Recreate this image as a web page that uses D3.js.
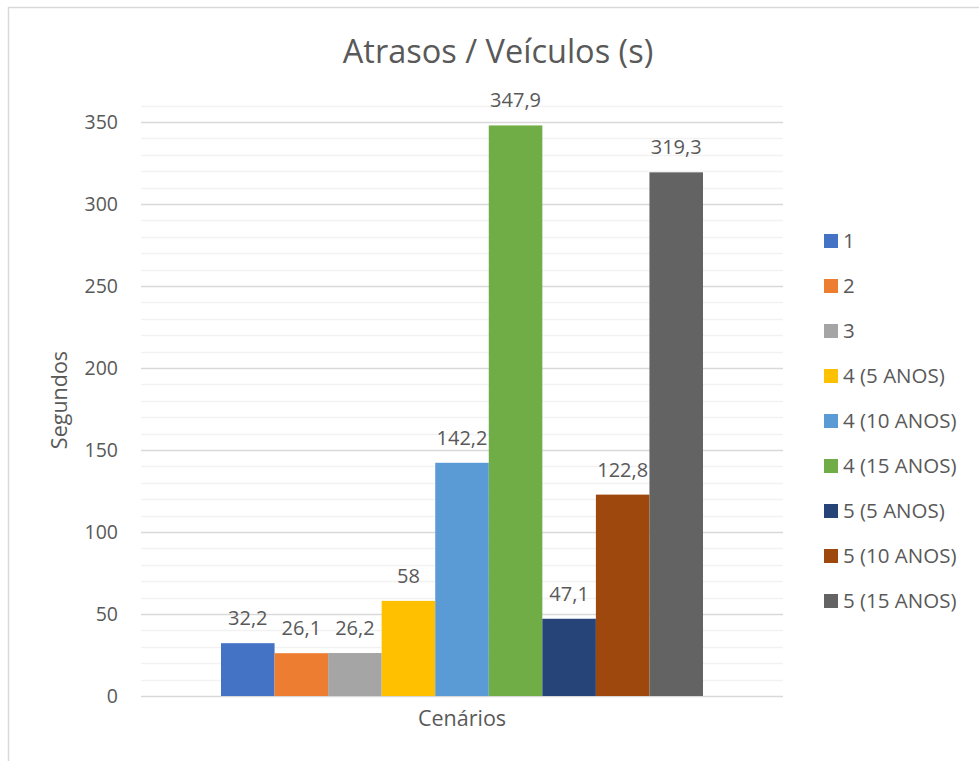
<!DOCTYPE html>
<html>
<head>
<meta charset="utf-8">
<script src="https://cdn.jsdelivr.net/npm/d3@7"></script>
<style>
  html, body { margin: 0; padding: 0; background: #fff; }
  svg { display: block; }
  text { font-family: "Open Sans", "Liberation Sans", sans-serif; fill: #595959; }
</style>
</head>
<body>
<svg id="chart" width="979" height="761"></svg>
<script>
// Delay per vehicle (seconds) for each scenario
const scenarios = ["1", "2", "3", "4 (5 ANOS)", "4 (10 ANOS)", "4 (15 ANOS)", "5 (5 ANOS)", "5 (10 ANOS)", "5 (15 ANOS)"];
const delays = [32.2, 26.1, 26.2, 58, 142.2, 347.9, 47.1, 122.8, 319.3];
const colors = ["#4472C4", "#ED7D31", "#A5A5A5", "#FFC000", "#5B9BD5", "#70AD47", "#264478", "#9E480E", "#636363"];
const yTicks = [0, 50, 100, 150, 200, 250, 300, 350];
const category = "Cenários";

const svg = d3.select("#chart");

// outer chart frame
svg.append("rect")
  .attr("x", 8.5).attr("y", 7.5)
  .attr("width", 1000).attr("height", 800)
  .attr("fill", "none").attr("stroke", "#d9d9d9").attr("stroke-width", 1.5);

const plot = { left: 141, right: 783, top: 105, bottom: 696 };

const y = d3.scaleLinear().domain([0, 350]).range([plot.bottom, 122]);
const xGroup = d3.scaleBand().domain([category]).range([plot.left, plot.right]).paddingInner(0).paddingOuter(0);
const xBar = d3.scaleBand().domain(scenarios)
  .range([plot.left + 80, plot.right - 80]);

// minor gridlines every 10
const minor = d3.range(10, 361, 10).filter(v => v % 50 !== 0);
svg.append("g").selectAll("line").data(minor).join("line")
  .attr("x1", plot.left).attr("x2", plot.right)
  .attr("y1", d => Math.round(y(d)) + 0.5).attr("y2", d => Math.round(y(d)) + 0.5)
  .attr("stroke", "#f2f2f2").attr("stroke-width", 1.5);

// major gridlines
svg.append("g").selectAll("line").data(yTicks).join("line")
  .attr("x1", plot.left).attr("x2", plot.right)
  .attr("y1", d => Math.round(y(d)) + 0.5).attr("y2", d => Math.round(y(d)) + 0.5)
  .attr("stroke", "#d9d9d9").attr("stroke-width", 1.5);

// y axis labels
const yAxis = d3.axisLeft(y).tickValues(yTicks).tickSize(0).tickPadding(0).tickFormat(d3.format("d"));
const gy = svg.append("g").attr("transform", `translate(${plot.left - 23},0)`).call(yAxis);
gy.select(".domain").remove();
gy.selectAll("text").style("font-size", "19.5px").attr("fill", "#595959")
  .style("font-family", "'Open Sans', sans-serif");

// bars
svg.append("g").selectAll("rect").data(scenarios).join("rect")
  .attr("x", d => xBar(d))
  .attr("width", xBar.bandwidth())
  .attr("y", (d, i) => y(delays[i]))
  .attr("height", (d, i) => y(0) - y(delays[i]))
  .attr("fill", (d, i) => colors[i]);

// value labels
const fmt = v => String(v).replace(".", ",");
svg.append("g").selectAll("text").data(scenarios).join("text")
  .attr("x", d => xBar(d) + xBar.bandwidth() / 2)
  .attr("y", (d, i) => y(delays[i]) - 18)
  .attr("text-anchor", "middle")
  .style("font-size", "20px")
  .attr("fill", "#404040")
  .text((d, i) => fmt(delays[i]));

// titles
svg.append("text")
  .attr("x", 498).attr("y", 63)
  .attr("text-anchor", "middle")
  .style("font-size", "32.5px")
  .text("Atrasos / Veículos (s)");

svg.append("text")
  .attr("x", xGroup(category) + xGroup.bandwidth() / 2).attr("y", 726)
  .attr("text-anchor", "middle")
  .style("font-size", "21.5px")
  .text(category);

svg.append("text")
  .attr("transform", "translate(67,400) rotate(-90)")
  .attr("text-anchor", "middle")
  .style("font-size", "21.5px")
  .text("Segundos");

// legend
const legend = svg.append("g").selectAll("g").data(scenarios).join("g")
  .attr("transform", (d, i) => `translate(824,${241 + i * 45})`);
legend.append("rect")
  .attr("x", 0).attr("y", -7).attr("width", 14).attr("height", 14)
  .attr("fill", (d, i) => colors[i]);
legend.append("text")
  .attr("x", 19).attr("y", 7)
  .style("font-size", "20.5px")
  .text(d => d);
</script>
</body>
</html>
